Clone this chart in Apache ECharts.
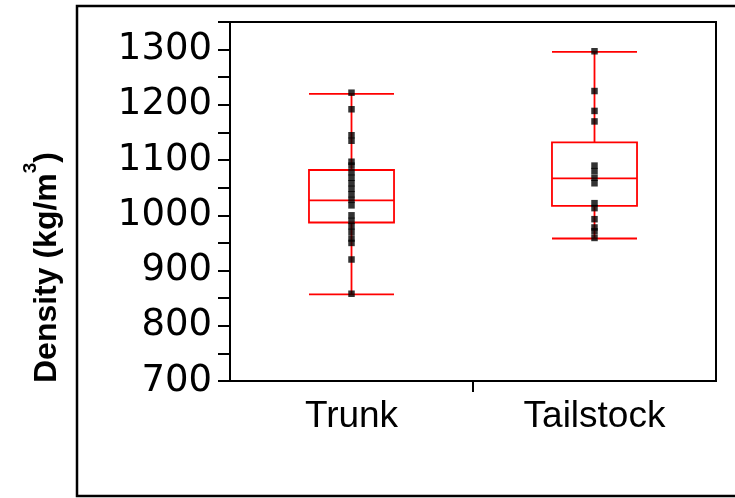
<!DOCTYPE html>
<html>
<head>
<meta charset="utf-8">
<script src="https://cdn.jsdelivr.net/npm/echarts@6/dist/echarts.min.js"></script>
<style>html,body{margin:0;padding:0;background:#fff;}#c{width:735px;height:498px;}</style>
</head>
<body>
<div id="c"></div>
<script>
const categories = ['Trunk', 'Tailstock'];
// [min, Q1, median, Q3, max]
const trunkStats = [857, 987, 1027, 1082, 1220];
const tailstockStats = [958, 1017, 1067, 1132, 1296];
const trunkPoints = [1222, 1192, 1145, 1135, 1097, 1090, 1078, 1068, 1058, 1048, 1038, 1028, 1018, 1000, 990, 980, 970, 958, 950, 920, 858];
const tailstockPoints = [1297, 1225, 1189, 1170, 1090, 1080, 1068, 1058, 1022, 1013, 993, 978, 971, 959];
const yMin = 700, yMax = 1350, yStep = 50, yLabelStep = 100;
const yName = 'Density (kg/m';
const ySup = '3';

const chart = echarts.init(document.getElementById('c'), null, {renderer: 'canvas'});
const pts = [];
trunkPoints.forEach(v => pts.push([categories[0], v]));
tailstockPoints.forEach(v => pts.push([categories[1], v]));

chart.setOption({
  animation: false,
  backgroundColor: '#fff',
  graphic: [{
    type: 'rect', silent: true, z: 100,
    shape: {x: 77, y: 6, width: 700, height: 490},
    style: {fill: 'none', stroke: '#000', lineWidth: 2.5}
  }],
  grid: {left: 230, top: 22, right: 19, bottom: 117, show: true, borderColor: '#000', borderWidth: 2, backgroundColor: 'transparent'},
  xAxis: [{
    type: 'category', data: categories, position: 'bottom',
    axisLine: {show: true, lineStyle: {color: '#000', width: 2}},
    axisTick: {show: false},
    axisLabel: {color: '#000', fontFamily: 'Liberation Sans', fontSize: 37, margin: 17},
    splitLine: {show: false}
  }, {
    type: 'category', data: ['', '', ''], position: 'bottom', boundaryGap: false,
    axisLine: {show: false},
    axisTick: {show: true, interval: function (i) { return i === 1; }, length: 11, lineStyle: {color: '#000', width: 2}},
    axisLabel: {show: false},
    splitLine: {show: false}
  }],
  yAxis: {
    type: 'value', min: yMin, max: yMax, interval: yStep,
    name: '{a|' + yName + '}{b|' + ySup + '}{a|)}',
    nameLocation: 'middle', nameGap: 167,
    nameTextStyle: {
      padding: [0, 132, 0, 0],
      rich: {
        a: {fontFamily: 'Liberation Sans', fontWeight: 'bold', fontSize: 32, lineHeight: 32, color: '#000', verticalAlign: 'bottom'},
        b: {fontFamily: 'Liberation Sans', fontWeight: 'bold', fontSize: 19, lineHeight: 19, color: '#000', verticalAlign: 'bottom', padding: [0, 0, 23, 0]}
      }
    },
    axisLine: {show: true, lineStyle: {color: '#000', width: 2}},
    axisTick: {show: true, length: 12, lineStyle: {color: '#000', width: 2}},
    axisLabel: {
      color: '#000', fontFamily: 'DejaVu Sans', fontSize: 37, margin: 18,
      formatter: function (v) { return (v % yLabelStep === 0) ? String(v) : ''; }
    },
    splitLine: {show: false}
  },
  series: [{
    type: 'boxplot',
    data: [trunkStats, tailstockStats],
    boxWidth: ['35%', '35%'],
    itemStyle: {color: 'transparent', borderColor: '#ff0000', borderWidth: 1.8},
    z: 2
  }, {
    type: 'scatter',
    data: pts,
    symbol: 'rect', symbolSize: 6.5,
    itemStyle: {color: '#000'},
    z: 3
  }]
});
</script>
</body>
</html>
